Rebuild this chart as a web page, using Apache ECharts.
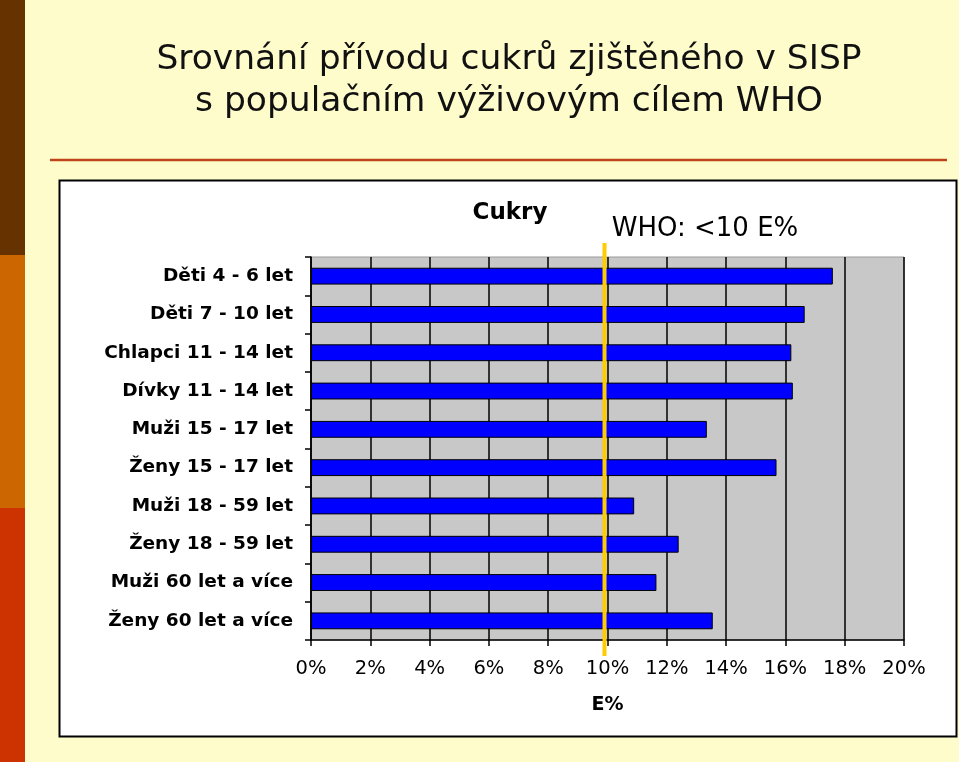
<!DOCTYPE html>
<html>
<head>
<meta charset="utf-8">
<script src="https://cdn.jsdelivr.net/npm/echarts@6/dist/echarts.min.js"></script>
<style>html,body{margin:0;padding:0;background:#FFFCCC;}#c{width:959px;height:762px;}</style>
</head>
<body>
<div id="c"></div>
<script>
const categories = ["Děti 4 - 6 let","Děti 7 - 10 let","Chlapci 11 - 14 let","Dívky 11 - 14 let","Muži 15 - 17 let","Ženy 15 - 17 let","Muži 18 - 59 let","Ženy 18 - 59 let","Muži 60 let a více","Ženy 60 let a více"];
const sugarValues = [17.6, 16.65, 16.2, 16.25, 13.35, 15.7, 10.9, 12.4, 11.65, 13.55];
const whoLimit = 9.9;
const titleLines = ["Srovnání přívodu cukrů zjištěného v SISP", "s populačním výživovým cílem WHO"];

const chart = echarts.init(document.getElementById('c'), null, {renderer: 'canvas'});
const option = {
  backgroundColor: '#FFFCCC',
  animation: false,
  graphic: [
    {type:'rect', shape:{x:0,y:0,width:25,height:255}, style:{fill:'#663300'}, z:0},
    {type:'rect', shape:{x:0,y:255,width:25,height:253}, style:{fill:'#CC6600'}, z:0},
    {type:'rect', shape:{x:0,y:508,width:25,height:254}, style:{fill:'#CC3300'}, z:0},
    {type:'line', shape:{x1:50,y1:160,x2:947,y2:160}, style:{stroke:'#C0441A', lineWidth:2.5}, z:0},
    {type:'rect', shape:{x:59.5,y:180.5,width:897,height:556}, style:{fill:'#FFFFFF', stroke:'#000', lineWidth:2}, z:-1}
  ],
  title: [
    {text: titleLines[0] + '\n' + titleLines[1], left: 504, top: 34, textAlign: 'center',
     textStyle:{fontFamily:'DejaVu Sans', fontWeight:'normal', fontSize:34.5, color:'#111', lineHeight:42}},
    {text: 'Cukry', left: 505, top: 197, textAlign:'center',
     textStyle:{fontFamily:'DejaVu Sans', fontWeight:'bold', fontSize:23, color:'#000'}},
    {text: 'WHO: <10 E%', left: 700, top: 211, textAlign:'center',
     textStyle:{fontFamily:'DejaVu Sans', fontWeight:'normal', fontSize:26, color:'#000'}}
  ],
  grid: {left: 311, right: 55, top: 257, bottom: 122, show: true, backgroundColor: '#C8C8C8', borderColor: '#999', borderWidth: 1},
  xAxis: {
    type: 'value', min: 0, max: 20, interval: 2,
    axisLine: {show:true, lineStyle:{color:'#000', width:1.5}},
    axisTick: {show:true, length:6, lineStyle:{color:'#000', width:1.5}},
    splitLine: {show:true, lineStyle:{color:'#000', width:1.5}},
    axisLabel: {formatter:'{value}%', fontFamily:'DejaVu Sans', fontSize:19.5, color:'#000', margin:19},
    name: 'E%', nameLocation: 'middle', nameGap: 56,
    nameTextStyle: {fontFamily:'DejaVu Sans', fontWeight:'bold', fontSize:19, color:'#000'}
  },
  yAxis: {
    type: 'category', data: categories, inverse: true,
    axisLine: {show:true, lineStyle:{color:'#000', width:1.5}},
    axisTick: {show:true, length:6, lineStyle:{color:'#000', width:1.5}},
    axisLabel: {fontFamily:'DejaVu Sans', fontWeight:'bold', fontSize:18.5, color:'#000', margin:18}
  },
  series: [{
    type: 'bar', data: sugarValues, barWidth: '44%',
    itemStyle: {color:'#0000FF', borderColor:'#000', borderWidth:1}
  }]
};
chart.setOption(option);
const xp = chart.convertToPixel({xAxisIndex:0}, whoLimit);
chart.setOption({graphic: option.graphic.concat([
  {type:'line', shape:{x1:xp, y1:243, x2:xp, y2:656}, style:{stroke:'#FFCC00', lineWidth:4}, z:100}
])});
</script>
</body>
</html>
